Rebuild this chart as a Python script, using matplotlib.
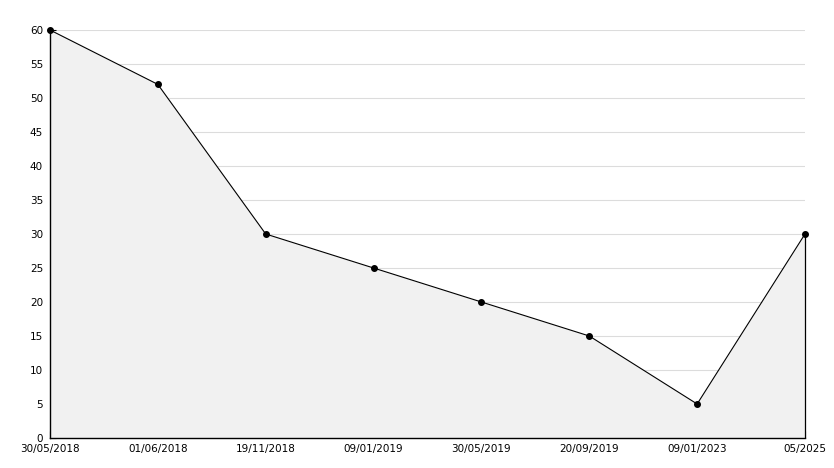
import numpy as np
import matplotlib.pyplot as plt
from matplotlib.ticker import MultipleLocator

# data
dates = ['30/05/2018', '01/06/2018', '19/11/2018', '09/01/2019',
         '30/05/2019', '20/09/2019', '09/01/2023', '05/2025']
values = [60, 52, 30, 25, 20, 15, 5, 30]

x = np.arange(len(dates))

fig = plt.figure(figsize=(8.34, 4.68), dpi=100)
ax = fig.add_axes([50 / 834, 1 - 438 / 468, 755 / 834, 408 / 468])

ax.fill_between(x, values, 0, color='#f1f1f1', lw=0, zorder=1)
ax.vlines(x[-1], 0, values[-1], color='black', lw=0.9, zorder=2, clip_on=False)
ax.plot(x, values, color='black', lw=0.8, marker='o', ms=4, zorder=3, clip_on=False)

ax.set_xlim(0, len(dates) - 1)
ax.set_ylim(0, 60)
ax.set_xticks(x)
ax.set_xticklabels(dates)
ax.yaxis.set_major_locator(MultipleLocator(5))
ax.yaxis.set_minor_locator(MultipleLocator(1))

ax.grid(axis='y', color='#dcdcdc', lw=0.8, zorder=0)
ax.set_axisbelow(True)

for side in ['top', 'right']:
    ax.spines[side].set_visible(False)
for side in ['left', 'bottom']:
    ax.spines[side].set_color('black')
    ax.spines[side].set_linewidth(1.0)

ax.tick_params(axis='x', direction='in', length=5, width=0.8, labelsize=7.5, pad=4)
ax.tick_params(axis='y', which='major', direction='in', length=4, width=0.8, labelsize=7.5, pad=5)
ax.tick_params(axis='y', which='minor', direction='in', length=3, width=0.8)

fig.savefig('out.png', dpi=100)
